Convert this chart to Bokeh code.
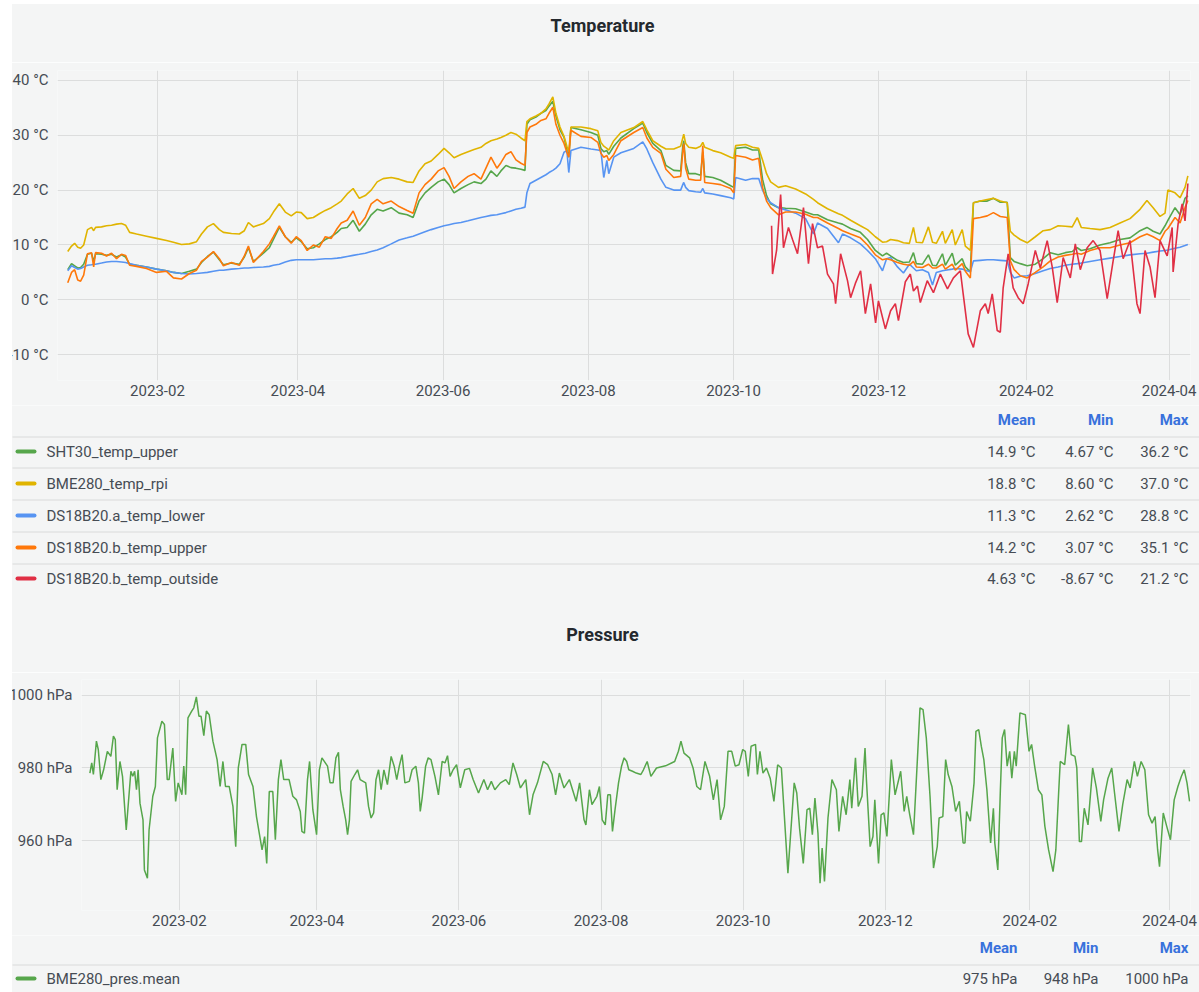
import sys
import pandas as pd
from bokeh.plotting import figure
from bokeh.layouts import column
from bokeh.models import Range1d, FixedTicker, DatetimeTickFormatter, PrintfTickFormatter
from bokeh.embed import file_html
from bokeh.resources import INLINE
from bokeh.core.properties import value

# ---------------- data ----------------
base_date = "2022-12-24"          # day offsets below are counted from this date
x_start, x_end = "2022-12-21", "2024-04-10"
tick_dates = ["2023-02-01", "2023-04-01", "2023-06-01", "2023-08-01",
              "2023-10-01", "2023-12-01", "2024-02-01", "2024-04-01"]
temp_yticks = [-10, 0, 10, 20, 30, 40]
pres_yticks = [960, 980, 1000]

temp_day = [
    1.3, 2.9, 4.2, 5.5, 6.7, 8.0, 9.6, 11.3, 12.2, 13.0,
    15.5, 17.6, 19.7, 21.8, 23.9, 25.6, 27.3, 30.2, 34.4, 38.6,
    42.8, 45.7, 49.1, 52.4, 55.4, 57.5, 60.0, 62.5, 65.0, 66.7,
    70.1, 73.4, 75.5, 77.2, 79.3, 83.5, 86.0, 87.7, 90.2, 92.7,
    95.2, 97.3, 99.4, 101.9, 104.5, 107.0, 109.5, 112.0, 114.5, 116.2,
    118.7, 121.2, 123.8, 126.3, 128.8, 131.3, 133.8, 137.2, 140.5, 143.9,
    146.4, 148.9, 151.4, 154.0, 156.9, 159.4, 161.5, 163.6, 166.5, 169.5,
    172.0, 174.9, 177.0, 179.1, 181.6, 183.3, 185.4, 187.5, 189.6, 191.7,
    193.4, 194.2, 195.5, 198.0, 200.1, 202.2, 203.5, 205.1, 206.4, 208.1,
    209.8, 211.0, 211.8, 212.7, 216.9, 221.1, 224.0, 225.3, 226.5, 227.8,
    228.6, 230.7, 233.7, 239.1, 242.9, 244.6, 247.1, 250.5, 252.6, 255.9,
    258.8, 259.7, 260.1, 260.9, 262.2, 265.1, 267.2, 268.1, 268.9, 272.3,
    275.6, 279.8, 281.1, 281.9, 286.1, 289.0, 291.6, 293.2, 294.9, 296.6,
    299.9, 302.9, 307.1, 311.3, 314.6, 316.3, 320.5, 325.1, 326.8, 330.2,
    334.3, 337.3, 340.6, 343.6, 345.3, 347.0, 349.9, 352.4, 354.9, 356.6,
    357.8, 360.4, 362.9, 364.6, 366.2, 368.8, 370.0, 372.9, 374.2, 377.1,
    378.4, 380.5, 381.8, 384.7, 387.6, 390.2, 393.1, 396.0, 397.3, 398.9,
    401.5, 404.4, 407.8, 411.1, 414.1, 417.4, 420.4, 423.3, 425.4, 427.1,
    430.8, 435.0, 439.2, 443.4, 447.6, 451.8, 454.7, 457.3, 460.2, 462.3,
    463.5, 466.5, 468.6, 470.7, 471.9,
]

sht30_temp_upper = [
    5.5, 6.6, 6.2, 5.8, 5.9, 6.5, 8.3, 8.5, 7.0, 8.4,
    8.3, 8.1, 8.3, 7.8, 8.2, 7.8, 6.5, 6.3, 6.0, 5.6,
    5.3, 5.0, 4.8, 5.2, 5.6, 6.8, 7.9, 8.7, 7.3, 6.4,
    6.7, 6.5, 7.8, 9.5, 7.0, 8.5, 9.5, 11.0, 13.2, 11.5,
    10.5, 11.3, 10.6, 9.3, 9.5, 10.2, 11.0, 11.5, 12.3, 13.0,
    13.2, 14.5, 12.5, 13.8, 15.5, 16.5, 16.2, 16.8, 15.8, 15.5,
    15.0, 18.0, 19.5, 20.5, 21.5, 22.0, 21.0, 19.5, 20.3, 21.0,
    21.5, 21.2, 22.0, 23.5, 22.5, 23.5, 24.5, 24.1, 24.0, 23.8,
    23.6, 32.0, 32.8, 33.3, 34.0, 34.5, 35.3, 36.2, 33.5, 31.0,
    29.6, 27.5, 26.0, 31.4, 31.0, 30.5, 30.0, 27.6, 27.0, 27.2,
    26.5, 28.0, 29.5, 31.2, 32.2, 30.5, 28.5, 27.2, 24.5, 23.6,
    23.5, 28.0, 29.0, 25.0, 23.0, 23.0, 22.7, 27.0, 22.5, 22.3,
    21.8, 20.8, 20.5, 27.6, 27.8, 27.3, 27.3, 22.0, 19.0, 17.5,
    16.8, 16.7, 16.6, 16.0, 15.5, 15.5, 14.6, 14.0, 13.8, 13.0,
    12.3, 11.0, 9.0, 8.0, 8.5, 8.0, 7.2, 6.8, 6.9, 8.6,
    6.6, 6.5, 8.2, 6.3, 6.2, 8.4, 6.3, 8.5, 6.3, 7.5,
    6.0, 5.1, 17.7, 18.0, 18.0, 18.5, 17.8, 17.8, 7.7, 7.0,
    6.6, 6.2, 6.5, 7.5, 8.6, 8.2, 8.6, 8.8, 9.5, 9.0,
    9.3, 10.0, 10.4, 11.0, 11.3, 12.6, 13.2, 12.5, 12.0, 13.5,
    14.5, 16.8, 15.5, 18.5, 19.0,
]

bme280_temp_rpi = [
    8.8, 9.8, 10.3, 9.6, 9.4, 10.0, 12.8, 13.2, 12.6, 13.2,
    13.3, 13.5, 13.6, 13.8, 13.9, 13.6, 12.3, 12.0, 11.6, 11.2,
    10.8, 10.5, 10.1, 10.2, 10.6, 12.0, 13.3, 13.9, 12.8, 12.3,
    12.1, 12.0, 12.6, 14.1, 13.3, 13.9, 14.8, 16.0, 17.5, 16.0,
    15.3, 16.0, 15.9, 14.8, 15.0, 15.7, 16.3, 16.8, 17.5, 18.0,
    19.3, 20.3, 18.5, 19.0, 20.0, 21.5, 22.1, 22.3, 22.0, 21.5,
    21.4, 23.5, 24.8, 25.3, 26.5, 27.6, 26.8, 25.9, 26.5, 27.0,
    27.4, 27.8, 28.5, 29.0, 29.3, 29.6, 30.0, 30.5, 30.2, 29.5,
    29.0, 32.5, 33.0, 33.5, 34.0, 34.8, 35.7, 37.0, 34.0, 31.5,
    29.8, 28.0, 27.0, 31.5, 31.5, 31.2, 30.8, 28.7, 28.0, 27.6,
    27.3, 29.0, 30.5, 31.4, 32.5, 31.0, 29.0, 28.0, 27.5, 27.5,
    28.0, 29.5, 30.2, 28.5, 27.8, 27.6, 28.0, 28.7, 27.8, 27.2,
    26.8, 26.0, 25.8, 28.1, 28.3, 27.8, 27.6, 25.5, 23.0, 21.5,
    20.5, 20.8, 20.2, 19.3, 18.3, 17.7, 16.6, 15.7, 15.4, 14.5,
    13.5, 12.8, 11.5, 10.5, 10.6, 11.0, 10.8, 10.4, 10.3, 13.2,
    10.5, 10.4, 13.3, 10.5, 10.3, 12.5, 10.3, 12.8, 10.0, 12.8,
    9.8, 9.0, 17.7, 18.0, 18.3, 18.5, 18.0, 17.7, 12.5, 11.8,
    11.0, 10.4, 11.5, 12.6, 12.8, 13.5, 13.4, 13.3, 15.0, 13.2,
    13.0, 12.8, 13.2, 14.0, 14.8, 16.5, 18.1, 16.8, 15.2, 15.8,
    20.0, 19.5, 18.6, 20.5, 22.6,
]

ds18b20_a_temp_lower = [
    5.3, 6.2, 5.9, 5.6, 5.7, 6.0, 6.3, 6.4, 6.5, 6.5,
    6.7, 6.9, 7.0, 7.0, 6.9, 6.8, 6.6, 6.3, 6.0, 5.6,
    5.3, 5.0, 4.8, 4.7, 4.8, 4.9, 5.0, 5.2, 5.4, 5.4,
    5.6, 5.7, 5.8, 5.8, 5.9, 6.0, 6.1, 6.3, 6.5, 6.9,
    7.2, 7.3, 7.3, 7.3, 7.3, 7.4, 7.5, 7.5, 7.6, 7.7,
    7.9, 8.1, 8.3, 8.5, 8.8, 9.1, 9.5, 10.2, 10.9, 11.3,
    11.6, 12.0, 12.4, 12.8, 13.2, 13.5, 13.7, 13.9, 14.1, 14.4,
    14.7, 15.0, 15.2, 15.4, 15.5, 15.7, 15.9, 16.2, 16.5, 16.7,
    16.9, 19.5, 21.2, 21.8, 22.3, 22.8, 23.2, 23.6, 24.0, 24.8,
    26.9, 27.2, 23.2, 27.2, 27.8, 27.5, 27.3, 27.2, 22.3, 25.4,
    23.0, 26.0, 26.8, 27.6, 28.8, 27.5, 25.0, 22.0, 20.5, 20.0,
    20.0, 21.0, 21.4, 20.5, 19.9, 19.7, 19.6, 20.3, 19.5, 19.3,
    19.0, 18.6, 18.4, 22.3, 21.8, 22.1, 22.1, 20.0, 18.5, 17.7,
    16.8, 16.4, 15.8, 14.8, 12.0, 14.0, 13.0, 10.4, 12.0, 11.3,
    10.2, 9.0, 7.5, 5.3, 7.5, 7.7, 6.0, 4.9, 6.5, 5.8,
    5.3, 5.5, 5.0, 2.7, 5.0, 5.3, 5.4, 5.6, 5.7, 5.6,
    5.4, 5.1, 7.1, 7.2, 7.3, 7.3, 7.2, 7.1, 5.0, 4.0,
    4.3, 4.4, 4.8, 5.3, 5.7, 6.0, 6.3, 6.5, 6.6, 6.7,
    7.0, 7.3, 7.6, 7.9, 8.2, 8.4, 8.5, 8.7, 8.9, 9.0,
    9.1, 9.4, 9.6, 9.9, 10.1,
]

ds18b20_b_temp_upper = [
    3.1, 5.0, 5.5, 3.6, 3.4, 4.5, 8.4, 8.6, 6.0, 8.6,
    8.5, 8.0, 8.5, 7.5, 8.3, 8.1, 6.3, 6.1, 5.7, 5.0,
    5.2, 4.0, 3.8, 4.8, 5.4, 7.0, 7.8, 8.8, 7.5, 6.2,
    6.8, 6.3, 8.0, 9.8, 6.8, 8.8, 10.2, 11.5, 13.5, 11.5,
    10.3, 11.5, 10.8, 9.0, 10.0, 9.6, 11.5, 11.2, 13.0, 14.0,
    14.5, 16.2, 13.6, 15.0, 17.5, 18.3, 17.5, 18.0, 17.0, 16.3,
    15.8, 19.5, 21.0, 22.0, 23.5, 24.1, 22.5, 20.3, 21.5, 22.5,
    23.0, 22.0, 24.0, 26.0, 24.0, 25.0, 26.5, 27.0, 25.5, 24.9,
    24.5, 30.5, 31.5, 32.0, 32.7, 33.0, 34.0, 35.1, 32.0, 30.0,
    28.5, 26.9, 26.0, 30.9, 29.8, 29.6, 28.7, 26.7, 26.0, 26.3,
    25.4, 26.5, 29.0, 30.5, 31.4, 29.5, 27.8, 26.7, 23.8, 22.3,
    22.5, 27.0, 28.5, 24.0, 22.0, 21.8, 21.8, 28.1, 21.4, 21.2,
    21.0, 20.3, 19.5, 26.3, 26.0, 25.5, 25.8, 20.5, 18.0, 16.8,
    15.5, 16.0, 16.0, 15.6, 15.0, 15.0, 14.0, 13.0, 12.6, 12.0,
    11.3, 10.0, 8.2, 7.3, 7.5, 7.3, 6.8, 6.5, 6.3, 7.0,
    6.0, 5.9, 6.5, 5.8, 5.8, 6.5, 5.6, 6.5, 5.4, 6.6,
    5.2, 4.0, 14.8, 15.0, 15.3, 15.9, 15.2, 15.0, 7.1, 5.5,
    4.4, 4.0, 5.0, 6.0, 7.1, 7.8, 8.1, 8.3, 8.5, 8.3,
    9.0, 9.5, 9.5, 10.0, 10.4, 11.5, 12.0, 11.5, 10.8, 12.5,
    13.0, 15.0, 14.0, 16.8, 18.1,
]

outside_day = [
    297.0, 297.4, 299.1, 300.8, 302.0, 304.1, 305.8, 307.9, 310.4, 312.5,
    314.2, 316.3, 318.4, 320.5, 323.0, 323.9, 326.0, 328.9, 330.2, 332.2,
    334.4, 336.4, 338.6, 340.7, 341.9, 344.8, 347.0, 349.0, 350.3, 353.2,
    355.3, 356.6, 358.3, 359.5, 362.4, 365.0, 367.9, 370.9, 373.4, 376.3,
    377.5, 379.6, 381.8, 384.7, 386.8, 388.0, 389.7, 391.8, 393.1, 394.3,
    396.4, 398.5, 400.6, 402.7, 404.8, 407.8, 409.9, 412.8, 414.9, 417.0,
    419.5, 422.5, 424.6, 426.7, 429.6, 432.1, 435.0, 438.0, 440.5, 442.6,
    444.7, 447.6, 450.5, 451.8, 453.9, 456.0, 458.1, 460.2, 463.2, 465.3,
    465.7, 467.8, 469.5, 470.7, 471.9,
]
ds18b20_b_temp_outside = [
    13.5, 4.7, 9.0, 19.2, 9.5, 13.2, 11.0, 8.4, 16.8, 6.6,
    13.9, 9.5, 9.8, 4.7, 2.9, -0.7, 8.4, 3.5, 0.4, 3.0,
    5.3, -2.5, 2.9, -4.2, -0.2, -5.3, -2.0, -0.7, -3.8, 3.3,
    4.7, 1.6, 2.5, -0.5, 3.5, 1.3, 4.7, 2.0, 4.0, 5.3,
    1.1, -6.2, -8.67, -2.0, -0.7, -2.5, 1.1, -5.6, -5.9, 2.2,
    8.4, 2.2, 0.4, -0.7, 2.9, 9.0, 5.8, 10.8, 6.0, -0.5,
    7.7, 4.0, 10.2, 5.5, 9.5, 10.8, 9.0, 0.2, 7.1, 12.6,
    7.5, 10.8, -0.7, -2.5, 9.0, 6.0, 0.4, 10.8, 8.0, 13.2,
    5.1, 13.9, 17.5, 14.4, 21.2,
]

pres_day = [
    0.6, 1.4, 2.1, 3.4, 4.2, 5.3, 6.5, 8.1, 9.6, 10.7,
    11.5, 12.3, 13.5, 14.6, 16.2, 18.2, 19.0, 19.8, 20.6, 21.3,
    22.1, 23.4, 24.0, 25.3, 26.0, 27.6, 28.7, 29.6, 31.5, 32.6,
    33.8, 34.6, 36.2, 37.4, 38.5, 40.1, 40.9, 41.7, 42.7, 44.3,
    45.2, 46.3, 47.4, 48.3, 49.5, 50.6, 51.8, 53.4, 55.2, 56.5,
    57.7, 58.8, 60.4, 62.0, 63.2, 64.3, 65.9, 67.5, 68.7, 70.6,
    72.1, 73.4, 74.5, 75.6, 76.5, 77.6, 79.1, 80.2, 81.5, 82.6,
    83.8, 86.1, 87.7, 89.3, 90.9, 91.6, 92.7, 94.0, 94.9, 96.3,
    97.9, 99.1, 100.2, 102.6, 103.7, 105.0, 106.2, 107.3, 108.1, 109.3,
    110.4, 111.2, 112.0, 112.7, 114.3, 115.5, 116.6, 119.0, 120.2, 121.3,
    122.4, 123.4, 124.5, 125.6, 126.8, 128.3, 129.9, 131.2, 132.3, 133.4,
    134.6, 135.8, 137.7, 138.9, 140.5, 141.6, 142.4, 143.2, 144.7, 145.8,
    147.0, 148.7, 150.2, 151.8, 153.0, 154.1, 155.2, 156.5, 158.0, 159.6,
    161.5, 163.5, 165.1, 167.4, 169.7, 171.3, 172.9, 174.4, 176.8, 179.1,
    180.6, 182.2, 183.8, 185.4, 187.7, 189.3, 190.8, 192.7, 195.2, 197.1,
    199.0, 200.5, 202.1, 204.1, 206.4, 209.3, 210.8, 212.7, 213.5, 215.0,
    216.1, 218.2, 219.3, 220.5, 221.8, 222.9, 224.0, 224.9, 226.0, 227.5,
    228.8, 229.9, 231.0, 231.9, 233.5, 235.1, 237.1, 238.2, 239.8, 241.4,
    243.8, 247.7, 251.6, 253.2, 254.3, 255.6, 258.0, 259.5, 261.1, 262.7,
    264.6, 266.6, 268.2, 269.8, 271.3, 272.9, 274.5, 276.1, 277.6, 279.2,
    280.8, 281.9, 283.2, 284.4, 286.3, 287.1, 288.2, 289.5, 291.0, 292.6,
    294.2, 295.8, 297.4, 298.6, 300.2, 301.3, 302.9, 304.0, 305.2, 306.8,
    308.4, 309.6, 310.7, 311.8, 313.1, 314.0, 314.9, 315.9, 317.4, 319.1,
    321.0, 322.1, 323.7, 325.2, 326.8, 327.6, 329.2, 330.4, 332.0, 333.3,
    333.9, 335.5, 336.7, 337.5, 339.1, 340.2, 341.4, 342.7, 344.6, 346.2,
    348.6, 350.1, 351.2, 352.5, 354.1, 355.7, 356.9, 358.2, 359.6, 361.2,
    362.7, 364.3, 365.1, 366.7, 367.9, 369.0, 370.6, 372.2, 373.8, 375.4,
    376.2, 376.9, 378.5, 380.1, 380.9, 382.1, 383.2, 384.3, 385.6, 387.2,
    388.4, 389.0, 390.3, 391.4, 392.2, 393.2, 394.3, 395.4, 396.3, 397.4,
    398.2, 399.8, 402.1, 403.7, 404.8, 406.1, 407.7, 409.2, 410.5, 412.1,
    414.0, 415.2, 416.4, 417.1, 419.0, 420.6, 421.8, 423.4, 424.2, 425.3,
    426.2, 427.4, 429.0, 431.0, 432.6, 434.5, 435.7, 437.6, 439.2, 440.4,
    442.3, 443.9, 445.8, 447.1, 448.9, 450.2, 451.8, 453.4, 455.0, 456.5,
    457.8, 458.9, 459.7, 461.3, 462.8, 464.4, 466.0, 467.6, 469.1, 470.3,
    471.5, 472.6,
]
bme280_pres_mean = [
    978.6, 981.4, 978.2, 987.4, 985.1, 976.8, 979.5, 984.6, 983.2, 988.8,
    987.8, 974.0, 981.8, 977.7, 962.9, 979.1, 977.7, 979.1, 974.0, 979.5,
    970.3, 965.7, 951.9, 949.6, 962.9, 972.2, 974.9, 988.3, 992.9, 992.0,
    976.8, 976.8, 985.5, 970.8, 975.9, 972.6, 980.5, 972.6, 993.8, 995.7,
    996.6, 999.6, 994.3, 994.3, 988.9, 995.7, 994.7, 987.4, 982.3, 974.9,
    981.8, 974.9, 974.9, 969.4, 958.3, 980.0, 986.5, 986.5, 978.2, 974.9,
    966.6, 961.6, 957.4, 961.1, 953.7, 973.5, 973.5, 960.2, 976.8, 982.3,
    976.8, 976.8, 972.2, 971.2, 968.0, 962.5, 962.0, 976.8, 981.8, 968.5,
    961.6, 979.5, 982.8, 980.5, 975.9, 975.9, 982.8, 984.3, 974.0, 969.4,
    965.7, 961.6, 965.7, 976.3, 978.2, 979.5, 976.8, 975.9, 969.4, 966.2,
    967.6, 976.8, 979.5, 974.0, 979.5, 975.4, 983.2, 980.5, 976.8, 980.5,
    983.7, 975.9, 976.3, 979.5, 980.5, 975.9, 968.0, 971.7, 980.5, 982.8,
    982.3, 977.7, 972.6, 981.8, 981.4, 983.4, 977.7, 979.5, 980.9, 974.5,
    979.5, 979.9, 976.8, 973.1, 976.8, 974.0, 976.3, 974.0, 975.9, 976.8,
    975.4, 981.4, 978.2, 974.5, 976.8, 967.1, 972.6, 975.9, 981.8, 980.9,
    978.2, 972.6, 978.6, 974.5, 976.8, 970.8, 975.9, 965.7, 964.3, 974.0,
    969.9, 972.2, 974.9, 965.7, 964.3, 972.6, 972.6, 962.5, 968.5, 975.9,
    980.5, 982.8, 981.8, 979.5, 979.1, 978.6, 978.2, 979.5, 981.8, 977.7,
    980.0, 980.6, 981.8, 984.6, 987.4, 984.1, 982.8, 980.0, 974.9, 974.0,
    981.8, 977.7, 971.2, 976.8, 965.7, 969.4, 984.6, 984.6, 980.5, 980.9,
    985.1, 984.6, 977.7, 986.0, 986.5, 978.2, 984.6, 978.6, 980.0, 977.2,
    970.8, 980.9, 980.0, 967.6, 951.0, 961.1, 975.9, 973.1, 963.4, 953.7,
    968.5, 968.9, 961.6, 971.7, 962.0, 948.2, 957.9, 948.7, 966.2, 976.8,
    974.0, 962.5, 972.2, 967.1, 976.8, 968.9, 982.8, 969.4, 972.2, 985.5,
    976.8, 958.3, 961.1, 971.2, 953.7, 967.1, 967.6, 961.1, 982.3, 972.6,
    979.1, 968.0, 972.2, 967.1, 961.6, 981.4, 996.6, 996.1, 988.3, 972.2,
    952.4, 958.3, 966.2, 966.6, 982.3, 978.2, 974.9, 968.0, 970.8, 959.3,
    959.3, 968.0, 965.3, 975.9, 990.1, 990.6, 986.0, 982.3, 974.0, 959.3,
    968.9, 959.3, 951.9, 974.0, 988.3, 990.6, 980.5, 984.6, 977.2, 984.6,
    980.5, 995.2, 994.7, 984.6, 986.5, 980.5, 974.0, 972.6, 963.9, 957.4,
    951.4, 957.4, 973.1, 981.8, 980.9, 992.0, 983.7, 983.2, 980.0, 959.7,
    959.7, 968.9, 964.3, 980.0, 974.5, 965.3, 971.2, 977.2, 980.0, 973.1,
    962.5, 969.9, 976.8, 974.5, 981.8, 977.7, 981.8, 979.5, 967.1, 964.8,
    966.6, 957.4, 952.8, 967.6, 963.9, 960.2, 971.2, 974.9, 977.7, 979.5,
    975.9, 970.8,
]

temp_names = ["SHT30_temp_upper", "BME280_temp_rpi", "DS18B20.a_temp_lower",
              "DS18B20.b_temp_upper", "DS18B20.b_temp_outside"]
temp_colors = ["#56a64b", "#e0b400", "#5794f2", "#ff780a", "#e02f44"]
temp_mean = [14.9, 18.8, 11.3, 14.2, 4.63]
temp_min = [4.67, 8.60, 2.62, 3.07, -8.67]
temp_max = [36.2, 37.0, 28.8, 35.1, 21.2]

pres_names = ["BME280_pres.mean"]
pres_colors = ["#56a64b"]
pres_mean = [975]
pres_min = [948]
pres_max = [1000]

stat_headers = ["Mean", "Min", "Max"]

# ---------------- style ----------------
W = 1199
BG = "#f4f5f5"
GRID = "#dcdddd"
SEP = "#d9dada"
TXT = "#464c54"
TITLE_TXT = "#24292e"
HEAD = "#3871dc"
FONT = "Roboto"


def to_dt(days):
    return (pd.Timestamp(base_date) + pd.to_timedelta(days, unit="D")).to_numpy()


def pair(a, b):
    n = min(len(a), len(b))
    if len(a) != len(b):
        print("length mismatch", len(a), len(b), file=sys.stderr)
    return to_dt(a[:n]), b[:n]


def chart(h, top, left, y0, y1, yticks, yfmt):
    p = figure(width=W, height=h, x_axis_type="datetime",
               x_range=Range1d(pd.Timestamp(x_start).to_pydatetime(), pd.Timestamp(x_end).to_pydatetime()),
               y_range=Range1d(y0, y1), output_backend="svg", toolbar_location=None,
               min_border_top=top, min_border_bottom=25, min_border_left=left, min_border_right=9,
               background_fill_color=BG, border_fill_color=BG, outline_line_color=None)
    p.xaxis.ticker = FixedTicker(ticks=[pd.Timestamp(t).value / 1e6 for t in tick_dates])
    p.xaxis.formatter = DatetimeTickFormatter(days="%Y-%m", months="%Y-%m", years="%Y-%m")
    p.yaxis.ticker = FixedTicker(ticks=yticks)
    p.yaxis.formatter = PrintfTickFormatter(format=yfmt)
    for ax in list(p.xaxis) + list(p.yaxis):
        ax.axis_line_color = None
        ax.major_tick_line_color = None
        ax.minor_tick_line_color = None
        ax.major_tick_out = 0
        ax.major_tick_in = 0
        ax.minor_tick_out = 0
        ax.minor_tick_in = 0
        ax.major_label_text_font = FONT
        ax.major_label_text_font_size = "15px"
        ax.major_label_text_color = TXT
    p.xaxis.major_label_standoff = 4
    p.yaxis.major_label_standoff = 9
    for g in p.grid:
        g.grid_line_color = GRID
        g.grid_line_width = 1
    return p


def panel(h):
    f = figure(width=W, height=h, x_range=Range1d(0, W), y_range=Range1d(h, 0),
               output_backend="svg", toolbar_location=None, min_border=0,
               x_axis_location=None, y_axis_location=None,
               background_fill_color=BG, border_fill_color=BG, outline_line_color=None)
    for g in f.grid:
        g.visible = False
    return f


def txt(f, xs, ys, texts, align="left", color=TXT, size="15px", style="normal"):
    f.text(x=xs, y=ys, text=texts, text_align=align, text_baseline="middle",
           text_font=value(FONT), text_font_size=size, text_font_style=style, text_color=color)


def legend(f, y_head, y_lines, y_rows, names, colors, cols, col_x):
    n = len(names)
    txt(f, col_x, [y_head] * 3, stat_headers, align="right", color=HEAD, style="bold")
    f.segment(x0=[12] * len(y_lines), y0=y_lines, x1=[W] * len(y_lines), y1=y_lines,
              line_color=SEP, line_width=1)
    f.segment(x0=[17] * n, y0=y_rows, x1=[34] * n, y1=y_rows, line_color=colors,
              line_width=4, line_cap="round")
    txt(f, [46] * n, y_rows, names)
    for cx, vals in zip(col_x, cols):
        txt(f, [cx] * n, y_rows, vals, align="right")


def fmt_c(v):
    return f"{v:#.3g} °C"


# ---------------- figures ----------------
fig_title_t = panel(62)
txt(fig_title_t, [602], [25], ["Temperature"], align="center", color=TITLE_TXT, size="18px", style="bold")

p_t = chart(343, 8, 57, -14.7, 41.8, temp_yticks, "%d °C")
for vals, col in zip([sht30_temp_upper, bme280_temp_rpi, ds18b20_a_temp_lower, ds18b20_b_temp_upper],
                     temp_colors[:4]):
    xs, ys = pair(temp_day, vals)
    p_t.line(xs, ys, line_color=col, line_width=1.6)
xs, ys = pair(outside_day, ds18b20_b_temp_outside)
p_t.line(xs, ys, line_color=temp_colors[4], line_width=1.6)

fig_leg_t = panel(267)
legend(fig_leg_t, 14, [31.5, 62.5, 94.5, 126.5, 158.5], [46, 78, 110, 142, 173],
       temp_names, temp_colors,
       [[fmt_c(v) for v in temp_mean], [fmt_c(v) for v in temp_min], [fmt_c(v) for v in temp_max]],
       [1035, 1113, 1188])
txt(fig_leg_t, [602], [229], ["Pressure"], align="center", color=TITLE_TXT, size="18px", style="bold")

p_p = chart(263, 7, 81, 940.7, 1004.4, pres_yticks, "%d hPa")
xs, ys = pair(pres_day, bme280_pres_mean)
p_p.line(xs, ys, line_color=pres_colors[0], line_width=1.5)

fig_leg_p = panel(57)
legend(fig_leg_p, 12, [29.5], [43], pres_names, pres_colors,
       [[f"{v} hPa" for v in pres_mean], [f"{v} hPa" for v in pres_min], [f"{v} hPa" for v in pres_max]],
       [1017, 1098, 1188])

# each figure in its own column so that plot frames are not aligned with each other;
# the dashboard panel is cropped on the left and top, as in the screenshot
layout = column(column(fig_title_t), column(p_t), column(fig_leg_t), column(p_p), column(fig_leg_p),
                spacing=0, styles={"clip-path": "inset(4px 0px 0px 12px)"})
open("out.html", "w").write(file_html(layout, INLINE, "Temperature and Pressure"))
